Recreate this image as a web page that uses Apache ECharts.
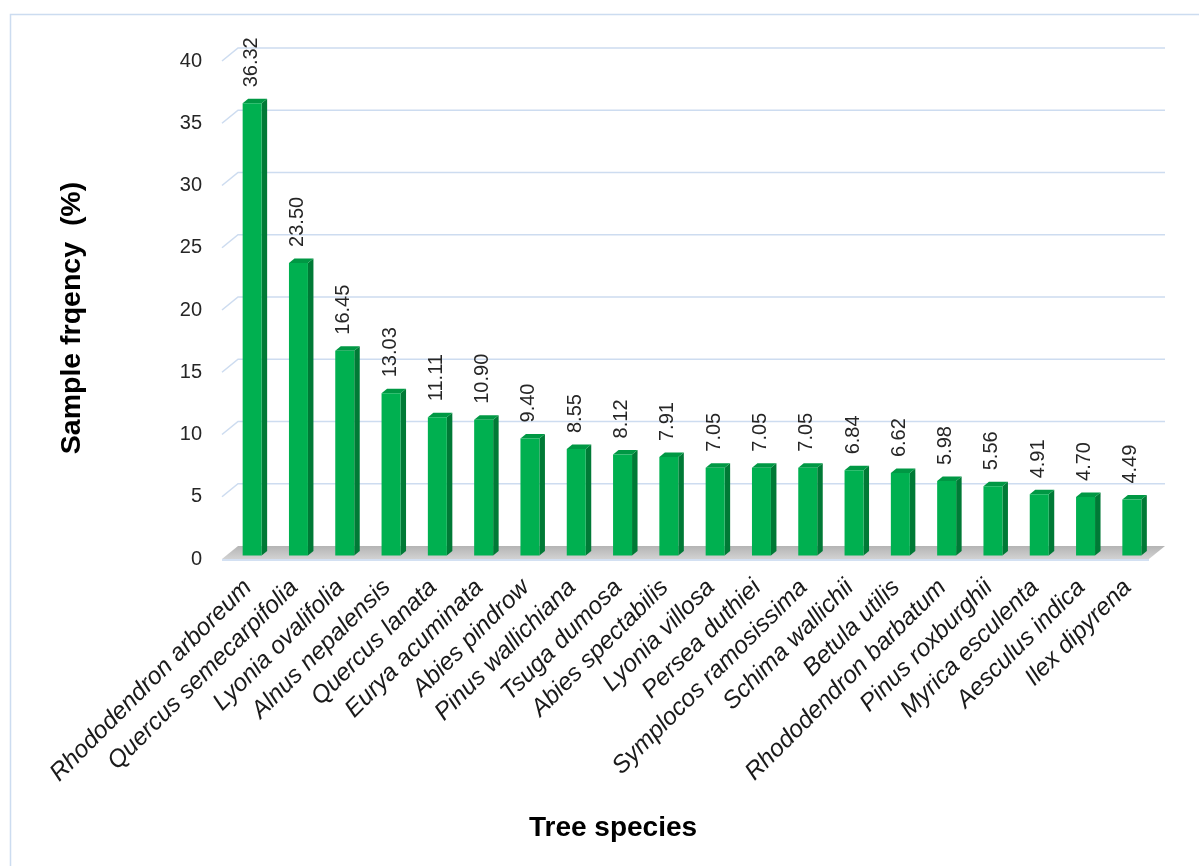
<!DOCTYPE html>
<html>
<head>
<meta charset="utf-8">
<title>Sample frequency of tree species</title>
<script src="https://cdn.jsdelivr.net/npm/echarts@6/dist/echarts.min.js"></script>
<style>
  html, body { margin: 0; padding: 0; background: #ffffff; }
  #chart { width: 1199px; height: 866px; }
</style>
</head>
<body>
<div id="chart"></div>
<script>
// Tree species, in descending order of sample frequency
const species = [
  'Rhododendron arboreum', 'Quercus semecarpifolia', 'Lyonia ovalifolia',
  'Alnus nepalensis', 'Quercus lanata', 'Eurya acuminata', 'Abies pindrow',
  'Pinus wallichiana', 'Tsuga dumosa', 'Abies spectabilis', 'Lyonia villosa',
  'Persea duthiei', 'Symplocos ramosissima', 'Schima wallichii', 'Betula utilis',
  'Rhododendron barbatum', 'Pinus roxburghii', 'Myrica esculenta',
  'Aesculus indica', 'Ilex dipyrena'
];

// Sample frequency (%)
const frequency = [
  36.32, 23.50, 16.45, 13.03, 11.11, 10.90, 9.40, 8.55, 8.12, 7.91,
  7.05, 7.05, 7.05, 6.84, 6.62, 5.98, 5.56, 4.91, 4.70, 4.49
];

// Value-axis ticks
const yTicks = [0, 5, 10, 15, 20, 25, 30, 35, 40];

const FONT = '"Liberation Sans", Arial, sans-serif';

// Pseudo-3D offsets (pixels) of the front and back planes relative to the bar plane
const FRONT = { dx: -7, dy: 3.5 };
const BACK = { dx: 9, dy: -9.5 };
const WALL_RIGHT = 10;          // back wall extends past the plot area
const BAR_DEPTH = { dx: 5.5, dy: 4.5 };

const chart = echarts.init(document.getElementById('chart'), null, { renderer: 'canvas' });

// Back-wall gridlines with their tick labels on the front edge
function renderGrid(params, api) {
  const cs = params.coordSys;
  const v = api.value(1);
  const y = api.coord([0, v])[1];
  const xl = cs.x;
  const xr = cs.x + cs.width;
  const children = [];
  if (v !== 0) {
    children.push({
      type: 'polyline',
      shape: { points: [
        [xl + FRONT.dx, y + FRONT.dy],
        [xl + BACK.dx, y + BACK.dy],
        [xr + WALL_RIGHT, y + BACK.dy]
      ] },
      style: { stroke: '#cddcf0', lineWidth: 1.5, fill: null }
    });
  }
  children.push({
    type: 'text',
    x: xl + FRONT.dx - 20,
    y: y + FRONT.dy,
    style: {
      text: String(v), align: 'right', verticalAlign: 'middle',
      font: '20px ' + FONT, fill: '#262626'
    }
  });
  return { type: 'group', children: children };
}

// Grey floor under the bars
function renderFloor(params, api) {
  const cs = params.coordSys;
  const y = api.coord([0, 0])[1];
  const xl = cs.x;
  const xr = cs.x + cs.width;
  const frontRight = xr + WALL_RIGHT - (BACK.dx - FRONT.dx);
  return {
    type: 'group',
    children: [
      {
        type: 'polygon',
        shape: { points: [
          [xl + FRONT.dx, y + FRONT.dy],
          [xl + BACK.dx, y + BACK.dy],
          [xr + WALL_RIGHT, y + BACK.dy],
          [frontRight, y + FRONT.dy]
        ] },
        style: {
          fill: new echarts.graphic.LinearGradient(0, 0, 0, 1, [
            { offset: 0, color: '#b4b4b4' },
            { offset: 1, color: '#d2d2d2' }
          ])
        }
      },
      {
        type: 'line',
        shape: { x1: xl + FRONT.dx, y1: y + FRONT.dy + 1, x2: frontRight, y2: y + FRONT.dy + 1 },
        style: { stroke: '#d3e0f2', lineWidth: 2 }
      }
    ]
  };
}

// Box-shaped bars with front, side and top faces plus a vertical value label
function renderBar(params, api) {
  const idx = api.value(0);
  const val = api.value(1);
  const base = api.coord([idx, 0]);
  const top = api.coord([idx, val]);
  const w = api.size([1, 0])[0] * 0.41;
  const cx = base[0];
  const l = cx - w / 2;
  const r = cx + w / 2;
  const dx = BAR_DEPTH.dx, dy = BAR_DEPTH.dy;
  return {
    type: 'group',
    children: [
      {
        type: 'polygon',
        shape: { points: [[r, top[1]], [r + dx, top[1] - dy], [r + dx, base[1] - dy], [r, base[1]]] },
        style: { fill: '#007a36' }
      },
      {
        type: 'polygon',
        shape: { points: [[l, top[1]], [l + dx, top[1] - dy], [r + dx, top[1] - dy], [r, top[1]]] },
        style: { fill: '#009844' }
      },
      {
        type: 'rect',
        shape: { x: l, y: top[1], width: w, height: base[1] - top[1] },
        style: { fill: '#00b050' }
      },
      {
        type: 'text',
        x: cx - 1,
        y: top[1] - 16,
        rotation: Math.PI / 2,
        style: {
          text: val.toFixed(2), align: 'left', verticalAlign: 'middle',
          font: '20px ' + FONT, fill: '#262626'
        }
      }
    ]
  };
}

const option = {
  animation: false,
  backgroundColor: '#ffffff',
  grid: { left: 229, right: 44, top: 57.5, bottom: 310.5 },
  xAxis: {
    type: 'category',
    data: species,
    axisLine: { show: false },
    axisTick: { show: false },
    splitLine: { show: false },
    axisLabel: {
      interval: 0,
      rotate: 45,
      margin: 24,
      padding: [0, 6, 0, 0],
      fontSize: 24.5,
      fontStyle: 'italic',
      fontFamily: FONT,
      color: '#1a1a1a'
    }
  },
  yAxis: {
    type: 'value',
    min: 0,
    max: 40,
    interval: 5,
    axisLine: { show: false },
    axisTick: { show: false },
    axisLabel: { show: false },
    splitLine: { show: false }
  },
  graphic: [
    {
      type: 'rect',
      left: 8, top: 12, z: -10,
      shape: { width: 1205, height: 870 },
      style: { fill: null, stroke: '#ccdcf0', lineWidth: 1.5 }
    },
    {
      type: 'text',
      x: 72, y: 318,
      rotation: Math.PI / 2,
      style: {
        text: 'Sample frqency  (%)', align: 'center', verticalAlign: 'middle',
        font: 'bold 28.5px ' + FONT, fill: '#000000'
      }
    },
    {
      type: 'text',
      x: 613, y: 828,
      style: {
        text: 'Tree species', align: 'center', verticalAlign: 'middle',
        font: 'bold 28px ' + FONT, fill: '#000000'
      }
    }
  ],
  series: [
    {
      type: 'custom',
      name: 'grid',
      z: 1,
      silent: true,
      renderItem: renderGrid,
      encode: { x: 0, y: 1 },
      data: yTicks.map(function (t) { return [0, t]; })
    },
    {
      type: 'custom',
      name: 'floor',
      z: 2,
      silent: true,
      renderItem: renderFloor,
      encode: { x: 0, y: 1 },
      data: [[0, 0]]
    },
    {
      type: 'custom',
      name: 'Sample frequency',
      z: 3,
      renderItem: renderBar,
      encode: { x: 0, y: 1 },
      data: frequency.map(function (v, i) { return [i, v]; })
    }
  ]
};

chart.setOption(option);
</script>
</body>
</html>
